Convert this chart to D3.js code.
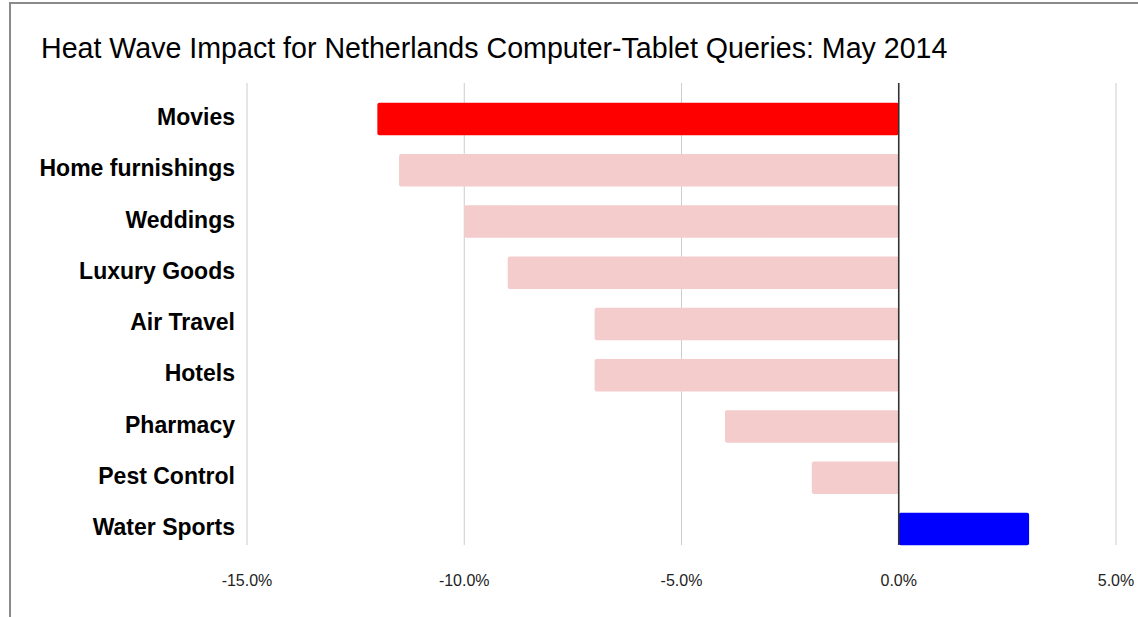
<!DOCTYPE html>
<html>
<head>
<meta charset="utf-8">
<script src="https://cdn.jsdelivr.net/npm/d3@7"></script>
<style>
  html, body { margin: 0; padding: 0; background: #fff; }
  svg { display: block; font-family: "Liberation Sans", Arial, sans-serif; }
</style>
</head>
<body>
<svg id="chart" width="1138" height="617"></svg>
<script>
// Change in query volume (percent) by category
const categories = ["Movies", "Home furnishings", "Weddings", "Luxury Goods", "Air Travel",
                    "Hotels", "Pharmacy", "Pest Control", "Water Sports"];
const values = [-12, -11.5, -10, -9, -7, -7, -4, -2, 3];
const barColors = ["#ff0000", "#f4cccc", "#f4cccc", "#f4cccc", "#f4cccc",
                   "#f4cccc", "#f4cccc", "#f4cccc", "#0000ff"];
const tickValues = [-15, -10, -5, 0, 5];
const titleText = "Heat Wave Impact for Netherlands Computer-Tablet Queries: May 2014";

const svg = d3.select("#chart");

// outer frame
svg.append("rect")
  .attr("x", 10).attr("y", 3)
  .attr("width", 1200).attr("height", 700)
  .attr("fill", "none").attr("stroke", "#8a8a8a").attr("stroke-width", 2);

const plotTop = 83, plotBottom = 545;

const x = d3.scaleLinear().domain([-15, 5]).range([247, 1116]);
const y = d3.scaleBand().domain(categories)
  .range([93.4, 554.6]).paddingInner(0.364).paddingOuter(0.182);

// title
svg.append("text")
  .attr("x", 41).attr("y", 58)
  .attr("font-size", 28.6).attr("fill", "#000")
  .text(titleText);

// vertical gridlines
svg.append("g").selectAll("line")
  .data(tickValues.filter(v => v !== 0))
  .join("line")
  .attr("x1", d => x(d)).attr("x2", d => x(d))
  .attr("y1", plotTop).attr("y2", plotBottom)
  .attr("stroke", "#cccccc").attr("stroke-width", 1);

// bars
svg.append("g").selectAll("rect")
  .data(categories)
  .join("rect")
  .attr("x", (d, i) => Math.min(x(values[i]), x(0)))
  .attr("y", d => y(d))
  .attr("width", (d, i) => Math.abs(x(values[i]) - x(0)))
  .attr("height", y.bandwidth())
  .attr("rx", 2).attr("ry", 2)
  .attr("fill", (d, i) => barColors[i]);

// zero baseline
svg.append("line")
  .attr("x1", x(0)).attr("x2", x(0))
  .attr("y1", plotTop).attr("y2", plotBottom)
  .attr("stroke", "#333333").attr("stroke-width", 1.6);

// category labels
svg.append("g").selectAll("text")
  .data(categories)
  .join("text")
  .attr("x", 235)
  .attr("y", d => y(d) + y.bandwidth() / 2 - 2)
  .attr("dy", "0.35em")
  .attr("text-anchor", "end")
  .attr("font-size", 23).attr("font-weight", "bold").attr("fill", "#000")
  .text(d => d);

// x-axis tick labels
const fmt = v => v.toFixed(1) + "%";
svg.append("g").selectAll("text")
  .data(tickValues)
  .join("text")
  .attr("x", d => x(d))
  .attr("y", 586)
  .attr("text-anchor", "middle")
  .attr("font-size", 16).attr("fill", "#222")
  .text(d => fmt(d));
</script>
</body>
</html>
